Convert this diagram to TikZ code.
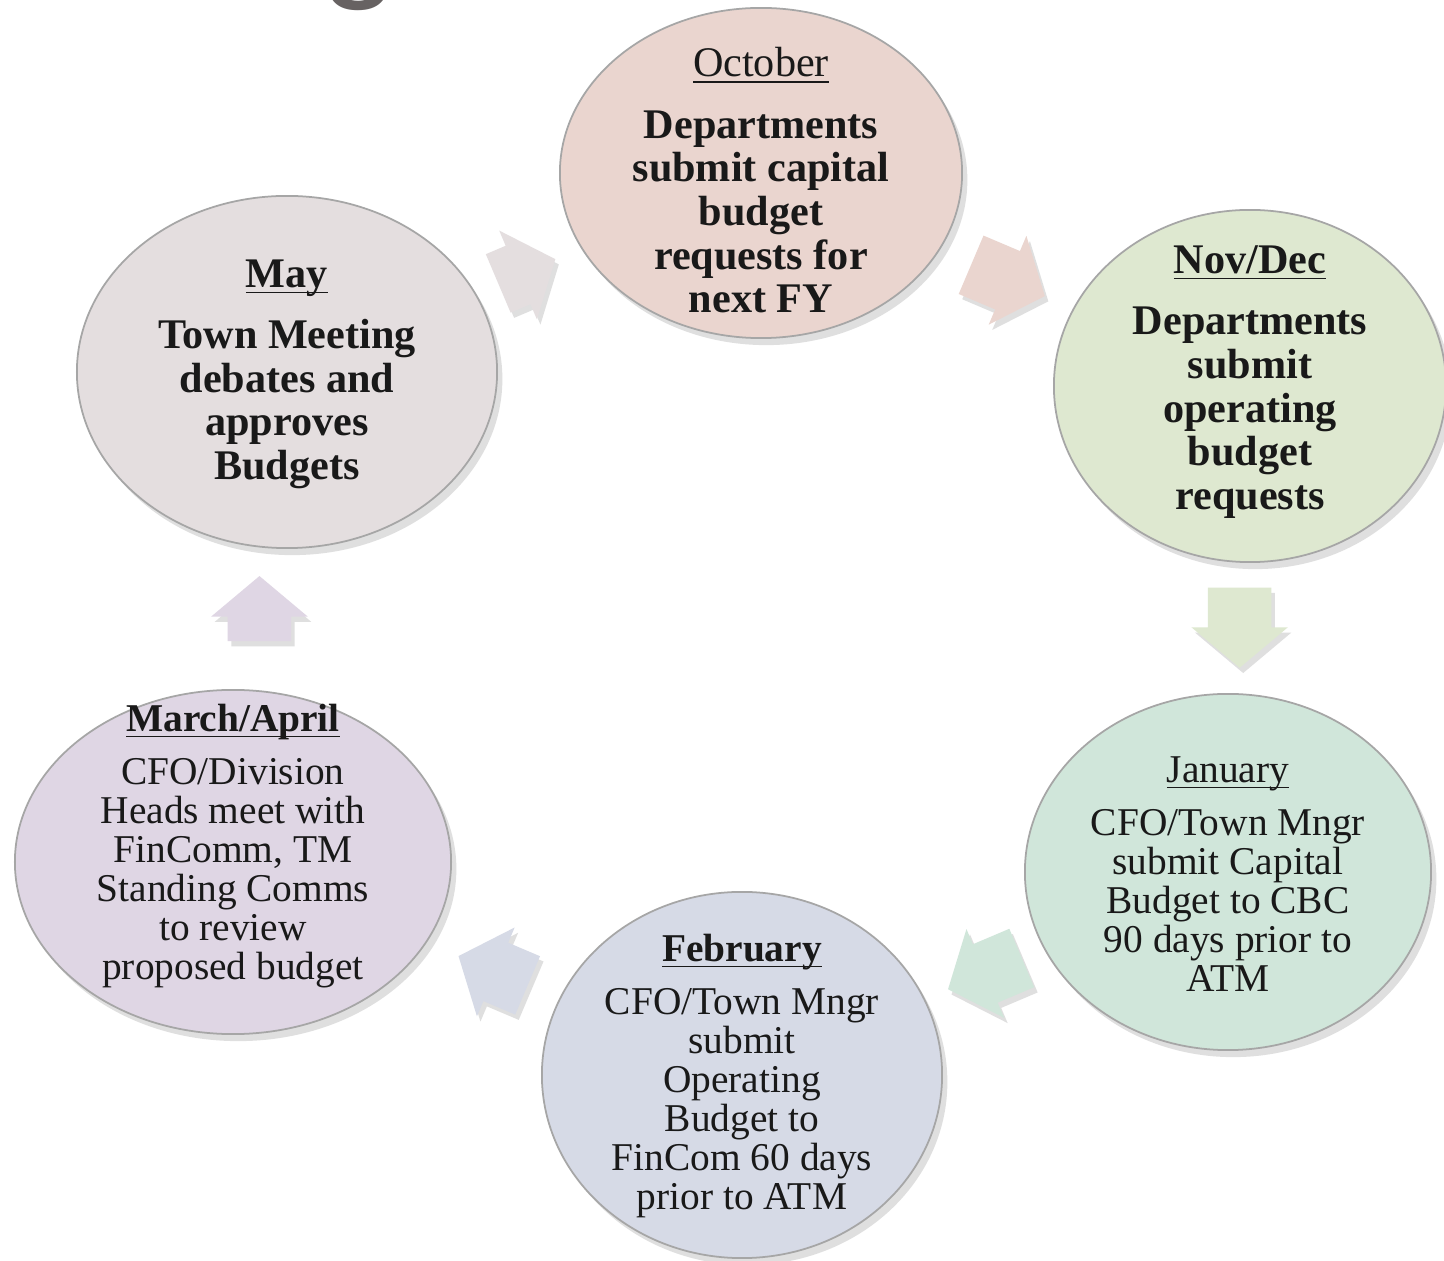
\documentclass[tikz,border=0pt]{standalone}
\usepackage{fontspec}
\setmainfont{Liberation Serif}
\newfontfamily\titlefont{Liberation Sans}
\usetikzlibrary{shapes.geometric,shapes.arrows,shadows,calc}

\definecolor{octfill}{HTML}{EAD5CF}
\definecolor{novfill}{HTML}{DEE8D0}
\definecolor{janfill}{HTML}{D0E6DA}
\definecolor{febfill}{HTML}{D6DAE6}
\definecolor{marfill}{HTML}{DFD6E4}
\definecolor{mayfill}{HTML}{E4DEDF}
\definecolor{titlegrey}{HTML}{676262}

\newcommand{\monthhead}[1]{\underline{\smash{#1}}}

\begin{document}
\begin{tikzpicture}[
    x=0.01cm, y=-0.01cm,
    stage/.style={ellipse, draw=gray!70, line width=0.5pt, inner sep=0pt,
        drop shadow={shadow xshift=1.5pt, shadow yshift=-2pt, opacity=0.25}},
    bigtext/.style={align=center, inner sep=0pt, text=black!90, font=\bfseries\fontsize{12}{12.4}\selectfont},
    smalltext/.style={align=center, inner sep=0pt, text=black!90, font=\fontsize{11.2}{11.1}\selectfont},
    cyc/.style={single arrow, draw=none, inner xsep=0pt, inner ysep=0.31cm, minimum width=0.95cm,
        single arrow head extend=0.165cm, single arrow tip angle=100, minimum height=#1,
        drop shadow={shadow xshift=1pt, shadow yshift=-1.5pt, opacity=0.25}}
]
\fill[white] (0,0) rectangle (1444,1261);
\useasboundingbox (0,0) rectangle (1444,1261);

% title fragment cut by the page edge
\node[font=\titlefont\fontsize{40}{40}\selectfont, text=titlegrey, anchor=base, inner sep=0pt] (titlefrag) at (360,-18) {g};

% the six stages
\node[stage, fill=octfill, minimum width=4.02cm, minimum height=3.30cm] (oct) at (761,173) {};
\node[stage, fill=novfill, minimum width=3.92cm, minimum height=3.52cm] (nov) at (1250,386) {};
\node[stage, fill=janfill, minimum width=4.06cm, minimum height=3.56cm] (jan) at (1228,872) {};
\node[stage, fill=febfill, minimum width=4.00cm, minimum height=3.66cm] (feb) at (742,1075) {};
\node[stage, fill=marfill, minimum width=4.36cm, minimum height=3.44cm] (mar) at (233,862) {};
\node[stage, fill=mayfill, minimum width=4.20cm, minimum height=3.52cm] (may) at (287,372) {};

\node[bigtext] (octtxt) at ([yshift=-0.22cm]oct.center)
    {\mdseries\monthhead{October}\\[5pt] Departments\\submit capital\\budget\\requests for\\next FY};
\node[bigtext] (novtxt) at ([yshift=-0.10cm]nov.center)
    {\monthhead{Nov/Dec}\\[5pt] Departments\\submit\\operating\\budget\\requests};
\node[smalltext] (jantxt) at ([yshift=-0.15cm]jan.center)
    {\monthhead{January}\\[4pt] CFO/Town Mngr\\submit Capital\\Budget to CBC\\90 days prior to\\ATM};
\node[smalltext] (febtxt) at ([yshift=-0.15cm]feb.center)
    {\monthhead{\bfseries February}\\[4pt] CFO/Town Mngr\\submit\\Operating\\Budget to\\FinCom 60 days\\prior to ATM};
\node[smalltext] (martxt) at ([yshift=0.02cm]mar.center)
    {\monthhead{\bfseries March/April}\\[4pt] CFO/Division\\Heads meet with\\FinComm, TM\\Standing Comms\\to review\\proposed budget};
\node[bigtext] (maytxt) at ([yshift=-0.16cm]may.center)
    {\monthhead{May}\\[5pt] Town Meeting\\debates and\\approves\\Budgets};

% cycle arrows
\node[cyc=0.62cm, fill=mayfill, rotate=23] (a1) at ($(may)!0.48!(oct)$) {};
\node[cyc=0.8cm, fill=octfill, rotate=-23] (a2) at ($(oct)!0.48!(nov)$) {};
\node[cyc=0.8cm, fill=novfill, rotate=-90] (a3) at ($(nov)!0.47!(jan)$) {};
\node[cyc=0.8cm, fill=janfill, rotate=203] (a4) at ($(jan)!0.475!(feb)$) {};
\node[cyc=0.75cm, fill=febfill, rotate=157] (a5) at ($(feb)!0.465!(mar)$) {};
\node[cyc=0.65cm, fill=marfill, rotate=90] (a6) at ($(mar)!0.49!(may)$) {};
\end{tikzpicture}
\end{document}
